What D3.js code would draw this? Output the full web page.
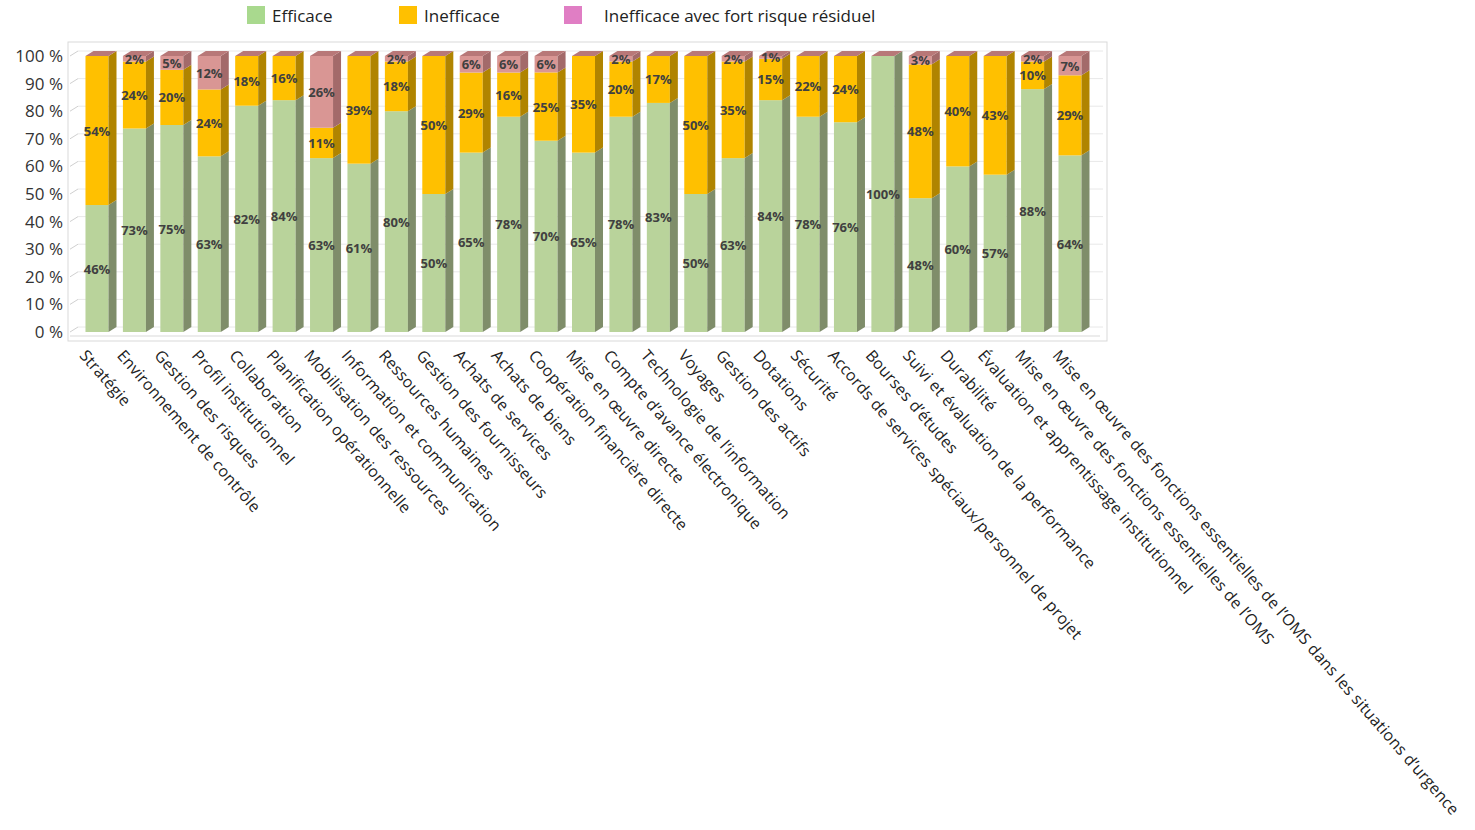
<!DOCTYPE html>
<html><head><meta charset="utf-8">
<script src="https://cdn.jsdelivr.net/npm/d3@7/dist/d3.min.js"></script>
<style>body{margin:0;background:#fff}svg{display:block}</style>
</head><body>
<svg id="c" width="1475" height="830"></svg>
<script>
const categories = ["Stratégie","Environnement de contrôle","Gestion des risques","Profil institutionnel","Collaboration","Planification opérationnelle","Mobilisation des ressources","Information et communication","Ressources humaines","Gestion des fournisseurs","Achats de services","Achats de biens","Coopération financière directe","Mise en œuvre directe","Compte d’avance électronique","Technologie de l’information","Voyages","Gestion des actifs","Dotations","Sécurité","Accords de services spéciaux/personnel de projet","Bourses d’études","Suivi et évaluation de la performance","Durabilité","Évaluation et apprentissage institutionnel","Mise en œuvre des fonctions essentielles de l’OMS","Mise en œuvre des fonctions essentielles de l’OMS dans les situations d’urgence"];
const efficace    = [46,73,75,63,82,84,63,61,80,50,65,78,70,65,78,83,50,63,84,78,76,100,48,60,57,88,64];
const inefficace  = [54,24,20,24,18,16,11,39,18,50,29,16,25,35,20,17,50,35,15,22,24,0,48,40,43,10,29];
const risque      = [0,2,5,12,0,0,26,0,2,0,6,6,6,0,2,0,0,2,1,0,0,0,3,0,0,2,7];
const seriesNames = ["Efficace","Inefficace","Inefficace avec fort risque résiduel"];
const yTicks = [0,10,20,30,40,50,60,70,80,90,100];

const svg = d3.select("#c");
const font = "'Open Sans', sans-serif";
const front = ["#b9d39b","#ffc000","#d99694"];
const side  = ["#7f8d6a","#b08400","#a36a6a"];
const topC  = "#b87878";
const legendC = ["#a9d98e","#ffc000","#e07ec4"];
const dx = 8, dy = 5;

const x = d3.scaleBand().domain(categories).range([78, 1089]).paddingInner(0.385).paddingOuter(0.2);
const y = d3.scaleLinear().domain([0,1]).range([332, 56]);
const yPct = d3.scaleLinear().domain([0,100]).range([332, 56]);

// frame
svg.append("rect").attr("x",68).attr("y",42).attr("width",1039).attr("height",299)
  .attr("fill","none").attr("stroke","#d9d9d9");

// gridlines on back wall + floor diagonals
const g = svg.append("g");
yTicks.forEach(t=>{
  g.append("line").attr("x1",70+dx).attr("x2",1103).attr("y1",yPct(t)-dy).attr("y2",yPct(t)-dy)
    .attr("stroke","#e8e8e8");
  g.append("line").attr("x1",70).attr("x2",70+dx).attr("y1",yPct(t)).attr("y2",yPct(t)-dy)
    .attr("stroke","#d0d0d0");
});
g.append("line").attr("x1",70).attr("x2",1100).attr("y1",yPct(0)+4).attr("y2",yPct(0)+4).attr("stroke","#d9d9d9");

// y axis labels
const yAxis = d3.axisLeft(yPct).tickValues(yTicks).tickFormat(d=>d+" %").tickSize(0).tickPadding(0);
const ya = svg.append("g").attr("transform","translate(63,0)").call(yAxis);
ya.select(".domain").remove();
ya.selectAll("text").attr("font-family",font).attr("font-size",17).attr("fill","#333");

// 100% stacked data
const table = categories.map((c,i)=>({cat:c, s0:efficace[i], s1:inefficace[i], s2:risque[i]}));
const stack = d3.stack().keys(["s0","s1","s2"]).offset(d3.stackOffsetExpand);
const layers = stack(table);

const bars = svg.append("g");
const lab = svg.append("g");
layers.forEach((layer,k)=>{
  layer.forEach(d=>{
    const v = d.data["s"+k];
    if (v<=0) return;
    const x0 = x(d.data.cat), x1 = x0 + x.bandwidth();
    const yb = y(d[0]), yt = y(d[1]);
    bars.append("rect").attr("x",x0).attr("y",yt).attr("width",x1-x0).attr("height",yb-yt).attr("fill",front[k]);
    bars.append("path").attr("d",`M${x1},${yt}L${x1+dx},${yt-dy}L${x1+dx},${yb-dy}L${x1},${yb}Z`).attr("fill",side[k]);
    lab.append("text").attr("x",(x0+x1)/2).attr("y",(yb+yt)/2)
      .attr("text-anchor","middle").attr("dominant-baseline","central")
      .attr("font-family",font).attr("font-size",13).attr("font-weight","bold").attr("fill","#404040")
      .text(v+"%");
  });
});
// top faces
table.forEach(d=>{
  const x0 = x(d.cat), x1 = x0 + x.bandwidth(), yt = y(1);
  bars.append("path").attr("d",`M${x0},${yt}L${x0+dx},${yt-dy}L${x1+dx},${yt-dy}L${x1},${yt}Z`).attr("fill",topC);
});
lab.raise();

// category labels
const cl = svg.append("g");
categories.forEach(c=>{
  const cx = x(c)+x.bandwidth()/2;
  cl.append("text").attr("transform",`translate(${cx-8},${347}) rotate(49)`)
    .attr("dominant-baseline","hanging").attr("letter-spacing",0.2)
    .attr("font-family",font).attr("font-size",16).attr("fill","#222").text(c);
});

// legend
const legX = [247,399,564], legTX=[272,424,604];
seriesNames.forEach((s,i)=>{
  svg.append("rect").attr("x",legX[i]).attr("y",6).attr("width",18).attr("height",18).attr("fill",legendC[i]);
  svg.append("text").attr("x",legTX[i]).attr("y",15).attr("dominant-baseline","central")
    .attr("font-family",font).attr("font-size",17).attr("fill","#222").text(s);
});
</script>
</body></html>
